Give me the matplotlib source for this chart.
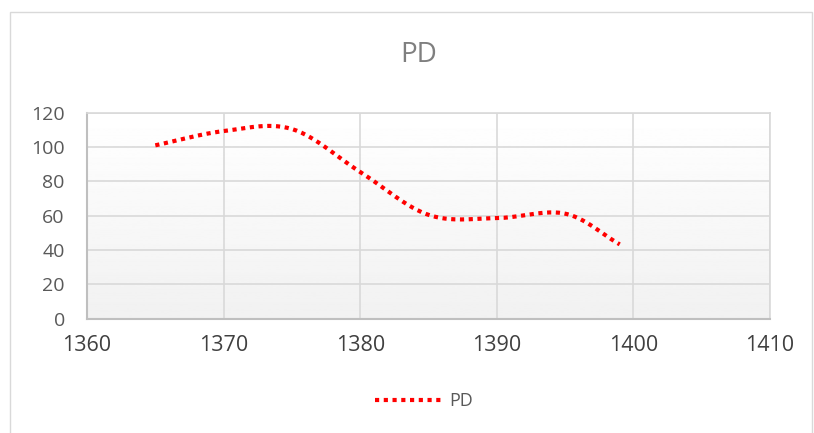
import numpy as np
import matplotlib.pyplot as plt
from matplotlib.patches import Rectangle

years = [1365, 1370, 1375, 1380, 1385, 1390, 1395, 1399]
pd_values = [101, 109.3, 110.5, 85.5, 60.5, 58.6, 61.2, 43.3]


def smooth(xs, ys, n=30):
    # Catmull-Rom through the points, similar to Excel's smoothed line
    xs = np.asarray(xs, float)
    ys = np.asarray(ys, float)
    px = np.concatenate([[2 * xs[0] - xs[1]], xs, [2 * xs[-1] - xs[-2]]])
    py = np.concatenate([[2 * ys[0] - ys[1]], ys, [2 * ys[-1] - ys[-2]]])
    ox, oy = [], []
    t = np.linspace(0, 1, n)
    for i in range(1, len(px) - 2):
        for arr, out in ((px, ox), (py, oy)):
            p0, p1, p2, p3 = arr[i - 1], arr[i], arr[i + 1], arr[i + 2]
            out.extend(0.5 * ((2 * p1) + (-p0 + p2) * t
                              + (2 * p0 - 5 * p1 + 4 * p2 - p3) * t ** 2
                              + (-p0 + 3 * p1 - 3 * p2 + p3) * t ** 3))
    return np.array(ox), np.array(oy)


plt.rcParams['font.family'] = ['Open Sans', 'DejaVu Sans']

fig = plt.figure(figsize=(8.14, 4.33), dpi=100)
fig.patches.append(Rectangle((0.012, -0.01), 0.986, 0.982, transform=fig.transFigure,
                             fill=False, edgecolor='#d9d9d9', linewidth=1))

ax = fig.add_axes([0.1069, 0.264, 0.839, 0.4757])
ax.set_xlim(1360, 1410)
ax.set_ylim(0, 120)

grad = np.linspace(1.0, 0.945, 256).reshape(-1, 1)
ax.imshow(grad, cmap='gray', vmin=0, vmax=1, aspect='auto',
          extent=(1360, 1410, 0, 120), origin='upper', zorder=0)

ax.set_xticks(np.arange(1360, 1411, 10))
ax.set_yticks(np.arange(0, 121, 20))
ax.grid(True, color='#d9d9d9', linewidth=1.2, zorder=1)
ax.set_axisbelow(True)
for s in ['top', 'right']:
    ax.spines[s].set_color('#d9d9d9')
    ax.spines[s].set_linewidth(1.2)
for s in ['left', 'bottom']:
    ax.spines[s].set_color('#bfbfbf')
    ax.spines[s].set_linewidth(1.5)
ax.tick_params(length=0)
ax.tick_params(axis='x', labelsize=15.5, labelcolor='#404040', pad=12)
ax.tick_params(axis='y', labelsize=14, labelcolor='#595959', pad=16)

sx, sy = smooth(years, pd_values)
ax.plot(sx, sy, color='#ff0000', linewidth=3, linestyle=(0, (1, 1.1)),
        dash_capstyle='butt', label='PD', zorder=3)

fig.text(0.514, 0.872, 'PD', ha='center', va='center', fontsize=20, color='#7f7f7f')

leg = fig.legend(loc='center', bbox_to_anchor=(0.521, 0.074), frameon=False,
                 fontsize=13, handlelength=3.7, handletextpad=0.4)
for t in leg.get_texts():
    t.set_color('#595959')

fig.savefig('out.png', dpi=100)
